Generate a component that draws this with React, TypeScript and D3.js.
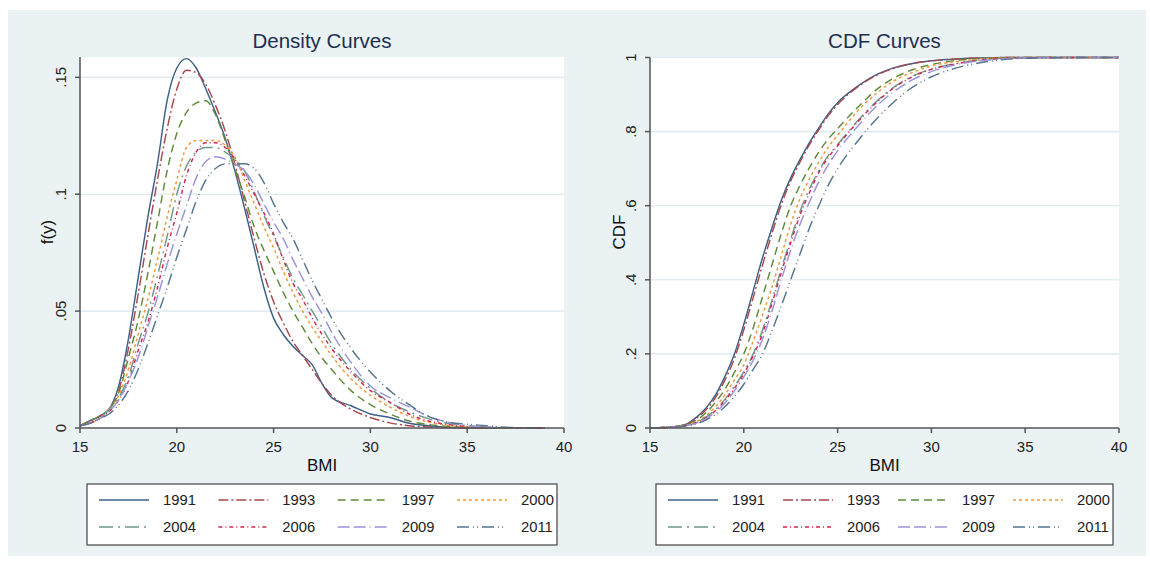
import React from 'react';
import * as d3 from 'd3';

const years = ['1991', '1993', '1997', '2000', '2004', '2006', '2009', '2011'];
const colors = ['#3c6088', '#a8484e', '#5f8a3c', '#ee9a3a', '#6e9a88', '#d42550', '#9a93dc', '#55768e'];
const dashes = ['', '10 3 2 3', '8 5', '3 3', '14 5 2 5', '4 3 1 3', '12 4 12 4 1 4', '12 4 1 3 1 4'];

const xTicks = [15, 20, 25, 30, 35, 40];

const densityBMI = [15, 15.5, 16, 16.5, 17, 17.5, 18, 18.5, 19, 19.5, 20, 20.5, 21, 21.5, 22, 22.5, 23, 23.5, 24, 24.5, 25, 25.5, 26, 26.5, 27, 27.5, 28, 29, 30, 31, 32, 33, 34, 35, 36, 37, 38, 39];
const density1991 = [0.001, 0.003, 0.005, 0.008, 0.018, 0.038, 0.064, 0.09, 0.113, 0.14, 0.154, 0.158, 0.154, 0.145, 0.135, 0.124, 0.11, 0.094, 0.077, 0.06, 0.047, 0.04, 0.035, 0.031, 0.027, 0.019, 0.013, 0.0095, 0.006, 0.0045, 0.002, 0.001, 0.0003, 0.0001, 0, 0, 0, 0];
const density1993 = [0.001, 0.003, 0.005, 0.008, 0.016, 0.034, 0.057, 0.082, 0.106, 0.128, 0.145, 0.153, 0.152, 0.147, 0.138, 0.127, 0.113, 0.097, 0.081, 0.066, 0.054, 0.045, 0.037, 0.031, 0.025, 0.019, 0.014, 0.008, 0.0045, 0.0022, 0.001, 0.0004, 0.0001, 0, 0, 0, 0, 0];
const density1997 = [0.001, 0.003, 0.005, 0.008, 0.015, 0.03, 0.046, 0.066, 0.088, 0.11, 0.126, 0.135, 0.139, 0.14, 0.134, 0.123, 0.111, 0.099, 0.086, 0.076, 0.067, 0.058, 0.05, 0.043, 0.036, 0.03, 0.025, 0.016, 0.01, 0.006, 0.003, 0.0015, 0.0007, 0.0003, 0.0001, 0, 0, 0];
const density2000 = [0.001, 0.002, 0.004, 0.008, 0.014, 0.025, 0.04, 0.055, 0.072, 0.09, 0.106, 0.12, 0.123, 0.123, 0.123, 0.121, 0.116, 0.106, 0.096, 0.086, 0.077, 0.067, 0.058, 0.05, 0.043, 0.037, 0.031, 0.021, 0.014, 0.009, 0.005, 0.0025, 0.0012, 0.0005, 0.0002, 0.0001, 0, 0];
const density2004 = [0.001, 0.002, 0.004, 0.008, 0.013, 0.022, 0.036, 0.049, 0.065, 0.082, 0.1, 0.112, 0.118, 0.12, 0.12, 0.118, 0.115, 0.11, 0.101, 0.091, 0.082, 0.073, 0.064, 0.057, 0.05, 0.043, 0.036, 0.025, 0.017, 0.011, 0.007, 0.004, 0.002, 0.001, 0.0004, 0.0001, 0, 0];
const density2006 = [0.001, 0.002, 0.004, 0.007, 0.012, 0.02, 0.033, 0.045, 0.06, 0.077, 0.092, 0.108, 0.118, 0.122, 0.122, 0.12, 0.115, 0.108, 0.1, 0.092, 0.083, 0.072, 0.062, 0.055, 0.047, 0.04, 0.034, 0.024, 0.016, 0.011, 0.006, 0.003, 0.0015, 0.0006, 0.0002, 0.0001, 0, 0];
const density2009 = [0.001, 0.002, 0.004, 0.007, 0.012, 0.02, 0.03, 0.043, 0.056, 0.07, 0.083, 0.095, 0.107, 0.114, 0.116, 0.115, 0.113, 0.11, 0.104, 0.096, 0.088, 0.081, 0.072, 0.064, 0.056, 0.049, 0.041, 0.028, 0.018, 0.013, 0.009, 0.005, 0.0025, 0.001, 0.0004, 0.0001, 0, 0];
const density2011 = [0.001, 0.002, 0.004, 0.006, 0.01, 0.016, 0.025, 0.036, 0.048, 0.06, 0.073, 0.085, 0.097, 0.106, 0.111, 0.113, 0.113, 0.113, 0.111, 0.105, 0.096, 0.088, 0.081, 0.072, 0.063, 0.055, 0.047, 0.034, 0.024, 0.016, 0.01, 0.005, 0.0025, 0.0016, 0.001, 0.0003, 0.0001, 0];

const cdfBMI = [15, 15.5, 16, 16.5, 17, 17.5, 18, 18.5, 19, 19.5, 20, 20.5, 21, 21.5, 22, 22.5, 23, 23.5, 24, 24.5, 25, 26, 27, 28, 29, 30, 31, 32, 33, 34, 35, 36, 38, 40];
const cdf1991 = [0, 0.001, 0.002, 0.005, 0.012, 0.03, 0.055, 0.09, 0.14, 0.2, 0.28, 0.37, 0.46, 0.54, 0.615, 0.675, 0.725, 0.77, 0.81, 0.848, 0.878, 0.92, 0.952, 0.972, 0.984, 0.991, 0.995, 0.998, 0.999, 1, 1, 1, 1, 1];
const cdf1993 = [0, 0.001, 0.002, 0.005, 0.011, 0.027, 0.05, 0.083, 0.13, 0.188, 0.265, 0.352, 0.44, 0.525, 0.603, 0.667, 0.718, 0.765, 0.805, 0.843, 0.873, 0.918, 0.95, 0.971, 0.984, 0.991, 0.995, 0.998, 0.999, 1, 1, 1, 1, 1];
const cdf1997 = [0, 0.001, 0.002, 0.005, 0.01, 0.022, 0.042, 0.07, 0.105, 0.15, 0.2, 0.27, 0.355, 0.44, 0.525, 0.6, 0.655, 0.703, 0.745, 0.78, 0.808, 0.862, 0.91, 0.945, 0.967, 0.981, 0.99, 0.995, 0.998, 0.999, 1, 1, 1, 1];
const cdf2000 = [0, 0.001, 0.002, 0.004, 0.009, 0.018, 0.034, 0.058, 0.09, 0.13, 0.17, 0.235, 0.305, 0.38, 0.465, 0.55, 0.62, 0.672, 0.718, 0.758, 0.79, 0.852, 0.9, 0.937, 0.96, 0.977, 0.987, 0.993, 0.997, 0.999, 1, 1, 1, 1];
const cdf2004 = [0, 0.001, 0.002, 0.004, 0.008, 0.016, 0.03, 0.05, 0.078, 0.112, 0.152, 0.2, 0.265, 0.345, 0.43, 0.51, 0.585, 0.645, 0.695, 0.735, 0.765, 0.825, 0.878, 0.92, 0.95, 0.969, 0.981, 0.989, 0.995, 0.998, 0.999, 1, 1, 1];
const cdf2006 = [0, 0.001, 0.002, 0.004, 0.008, 0.015, 0.028, 0.047, 0.074, 0.107, 0.146, 0.195, 0.255, 0.335, 0.42, 0.5, 0.575, 0.635, 0.69, 0.73, 0.762, 0.822, 0.875, 0.918, 0.948, 0.968, 0.98, 0.989, 0.995, 0.998, 0.999, 1, 1, 1];
const cdf2009 = [0, 0.001, 0.002, 0.004, 0.007, 0.014, 0.026, 0.043, 0.068, 0.1, 0.138, 0.183, 0.24, 0.315, 0.4, 0.48, 0.55, 0.61, 0.665, 0.71, 0.748, 0.81, 0.865, 0.908, 0.94, 0.962, 0.977, 0.987, 0.993, 0.997, 0.999, 1, 1, 1];
const cdf2011 = [0, 0.001, 0.002, 0.003, 0.006, 0.012, 0.022, 0.037, 0.058, 0.085, 0.118, 0.158, 0.2, 0.262, 0.33, 0.4, 0.47, 0.54, 0.6, 0.655, 0.7, 0.77, 0.83, 0.88, 0.92, 0.948, 0.967, 0.98, 0.989, 0.995, 0.998, 0.999, 1, 1];

const densitySeries = [density1991, density1993, density1997, density2000, density2004, density2006, density2009, density2011];
const cdfSeries = [cdf1991, cdf1993, cdf1997, cdf2000, cdf2004, cdf2006, cdf2009, cdf2011];

const densityYTicks = [0, 0.05, 0.1, 0.15];
const densityYLabels = ['0', '.05', '.1', '.15'];
const cdfYTicks = [0, 0.2, 0.4, 0.6, 0.8, 1];
const cdfYLabels = ['0', '.2', '.4', '.6', '.8', '1'];

const FONT = "'Liberation Sans', Arial, Helvetica, sans-serif";

type PanelCfg = {
  left: number; right: number; top: number; bottom: number;
  yMax: number; yTicks: number[]; yLabels: string[];
  title: string; yTitle: string; yTitleX: number; yLabelX: number;
  xs: number[]; series: number[][];
  legendX: number; legendW: number;
};

function Panel({ p }: { p: PanelCfg }) {
  const x = d3.scaleLinear().domain([15, 40]).range([p.left, p.right]);
  const y = d3.scaleLinear().domain([0, p.yMax]).range([p.bottom, p.top]);
  const line = d3.line<number>()
    .x((_, i) => x(p.xs[i]))
    .y((d) => y(d))
    .curve(d3.curveMonotoneX);
  const cx = (p.left + p.right) / 2;
  const legY = 484, legH = 61;
  const colSp = (p.legendW - 12 - 34 - 64 - 2) / 3;
  return (
    <g>
      <rect x={p.left} y={p.top} width={p.right - p.left} height={p.bottom - p.top} fill="#ffffff" />
      {p.yTicks.filter((t) => t > 0).map((t) => (
        <line key={'g' + t} x1={p.left} x2={p.right} y1={y(t)} y2={y(t)} stroke="#e3edf0" strokeWidth={1.6} />
      ))}
      {p.series.map((s, i) => (
        <path key={'s' + i} d={line(s) || ''} fill="none" stroke={colors[i]} strokeWidth={1.45}
          strokeDasharray={dashes[i] || undefined} />
      ))}
      <line x1={p.left} x2={p.left} y1={p.top} y2={p.bottom} stroke="#555" strokeWidth={1.5} />
      <line x1={p.left} x2={p.right} y1={p.bottom} y2={p.bottom} stroke="#555" strokeWidth={1.5} />
      {p.yTicks.map((t, i) => (
        <g key={'yt' + t}>
          <line x1={p.left - 5} x2={p.left} y1={y(t)} y2={y(t)} stroke="#555" strokeWidth={1.5} />
          <text transform={`translate(${p.yLabelX},${y(t)}) rotate(-90)`} textAnchor="middle"
            fontFamily={FONT} fontSize={15} fill="#222">{p.yLabels[i]}</text>
        </g>
      ))}
      {xTicks.map((t) => (
        <g key={'xt' + t}>
          <line x1={x(t)} x2={x(t)} y1={p.bottom} y2={p.bottom + 5} stroke="#555" strokeWidth={1.5} />
          <text x={x(t)} y={p.bottom + 24} textAnchor="middle" fontFamily={FONT} fontSize={15} fill="#222">{t}</text>
        </g>
      ))}
      <text x={cx} y={48} textAnchor="middle" fontFamily={FONT} fontSize={20.5} fill="#1e2f4f">{p.title}</text>
      <text x={cx} y={471} textAnchor="middle" fontFamily={FONT} fontSize={17} fill="#111">BMI</text>
      <text transform={`translate(${p.yTitleX},${232}) rotate(-90)`} textAnchor="middle"
        fontFamily={FONT} fontSize={17} fill="#111">{p.yTitle}</text>
      <rect x={p.legendX} y={legY} width={p.legendW} height={legH} fill="#ffffff" stroke="#444" strokeWidth={1.2} />
      {years.map((yr, i) => {
        const col = i % 4, row = Math.floor(i / 4);
        const lx = p.legendX + 12 + col * colSp;
        const ly = legY + 16 + row * 27;
        return (
          <g key={'l' + yr}>
            <line x1={lx} x2={lx + 50} y1={ly} y2={ly} stroke={colors[i]} strokeWidth={1.5}
              strokeDasharray={dashes[i] || undefined} />
            <text x={lx + 64} y={ly + 5} fontFamily={FONT} fontSize={14.8} fill="#222">{yr}</text>
          </g>
        );
      })}
    </g>
  );
}

export default function App() {
  const panels: PanelCfg[] = [
    {
      left: 80, right: 564, top: 57, bottom: 428, yMax: 0.1587,
      yTicks: densityYTicks, yLabels: densityYLabels, title: 'Density Curves', yTitle: 'f(y)',
      yTitleX: 53, yLabelX: 66, xs: densityBMI, series: densitySeries, legendX: 87, legendW: 470,
    },
    {
      left: 650, right: 1119, top: 57.5, bottom: 428, yMax: 1,
      yTicks: cdfYTicks, yLabels: cdfYLabels, title: 'CDF Curves', yTitle: 'CDF',
      yTitleX: 625, yLabelX: 636, xs: cdfBMI, series: cdfSeries, legendX: 656, legendW: 457,
    },
  ];
  return (
    <svg width={1150} height={561} style={{ position: 'absolute', left: 0, top: 0 }}>
      <rect x={0} y={0} width={1150} height={561} fill="#ffffff" />
      <rect x={8} y={10} width={1138} height={546} fill="#eaf2f4" />
      {panels.map((p, i) => <Panel key={i} p={p} />)}
    </svg>
  );
}
